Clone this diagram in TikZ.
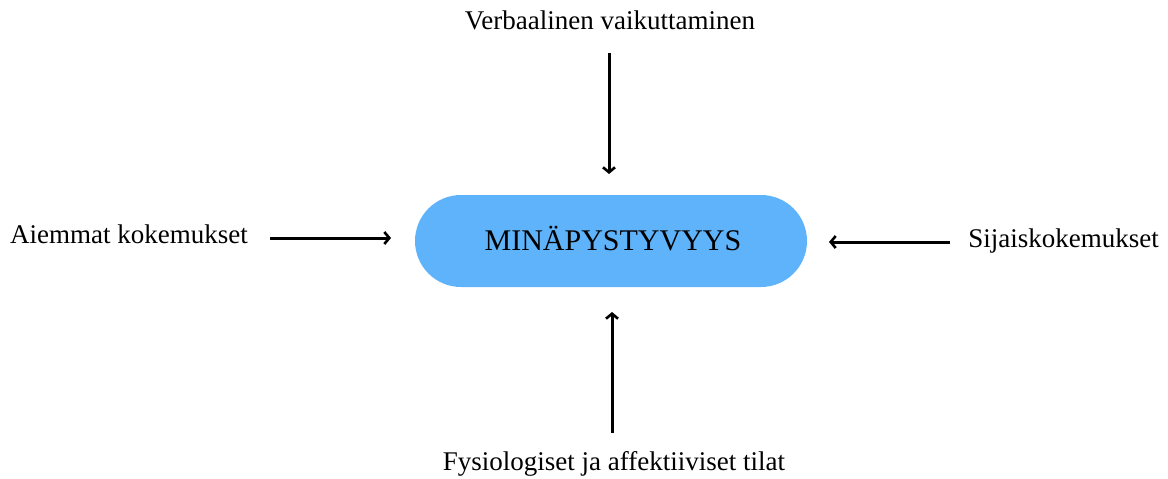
\documentclass[tikz,border=0pt]{standalone}
\usepackage{fontspec}
\setmainfont{Liberation Serif}
\usetikzlibrary{arrows.meta}
\definecolor{pill}{HTML}{5EB3FA}
\begin{document}
\begin{tikzpicture}[x=1pt,y=-1pt,
  lbl/.style={anchor=base,inner sep=0pt,font=\fontsize{27}{32}\selectfont},
  conn/.style={line width=3pt,-{Straight Barb[length=5pt,width=12pt,line width=2.6pt]}},
  pillbox/.style={fill=pill,rounded corners=46pt,minimum width=392pt,minimum height=92pt,inner sep=0pt}]
\useasboundingbox (0,0) rectangle (1168,479);
\node[pillbox] (mid) at (611,241) {};
\node[lbl] (mtxt) at (613,250) {\fontsize{30}{35}\selectfont MINÄPYSTYVYYS};
\node[lbl] (top) at (610,30) {Verbaalinen vaikuttaminen};
\node[lbl,anchor=base west] (left) at (10,243) {Aiemmat kokemukset};
\node[lbl,anchor=base east] (right) at (1159,247) {Sijaiskokemukset};
\node[lbl] (bot) at (614,470) {Fysiologiset ja affektiiviset tilat};
\coordinate (t1) at (609,53);   \coordinate (t2) at (609,174);
\coordinate (l1) at (270,238);  \coordinate (l2) at (391,238);
\coordinate (r1) at (950,242);  \coordinate (r2) at (829,242);
\coordinate (b1) at (612,433);  \coordinate (b2) at (612,312);
\draw[conn] (t1) -- (t2);
\draw[conn] (l1) -- (l2);
\draw[conn] (r1) -- (r2);
\draw[conn] (b1) -- (b2);
\end{tikzpicture}
\end{document}
